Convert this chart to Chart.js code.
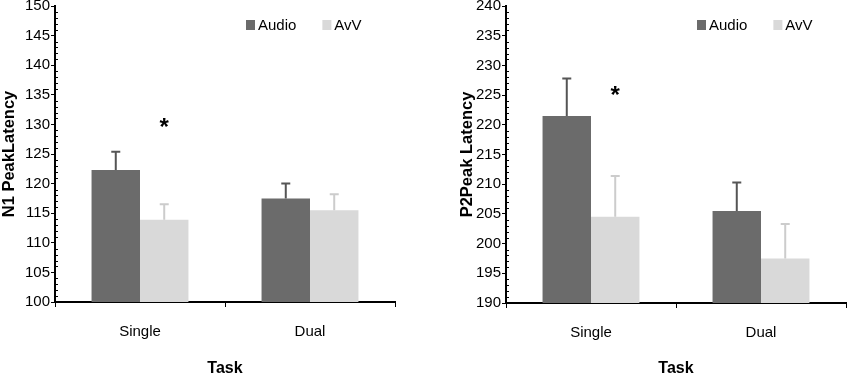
<!DOCTYPE html>
<html>
<head>
<meta charset="utf-8">
<script src="https://cdn.jsdelivr.net/npm/chart.js@4.4.0/dist/chart.umd.min.js"></script>
<style>
  body { margin: 0; background: #fff; }
  .wrap { position: absolute; top: 0; width: 425px; height: 379px; }
</style>
</head>
<body>
<div class="wrap" style="left:0"><canvas id="n1Chart"></canvas></div>
<div class="wrap" style="left:425px"><canvas id="p2Chart"></canvas></div>
<script>
// categories
const tasks = ["Single", "Dual"]

// N1 peak latency (means and upper error)
const n1Audio = [122.3, 117.5]
const n1AvV = [113.9, 115.5]
const n1AudioErr = [3.1, 2.5]
const n1AvVErr = [2.6, 2.7]
const n1Star = [130.2, null]   // asterisk above AvV bar

// P2 peak latency
const p2Audio = [221.5, 205.5]
const p2AvV = [204.5, 197.5]
const p2AudioErr = [6.3, 4.8]
const p2AvVErr = [6.9, 5.8]
const p2Star = [225.6, null]

const FONT = "'Liberation Sans', Arial, sans-serif"
const AUDIO_COLOR = "#6b6b6b"
const AVV_COLOR = "#d9d9d9"

// error bars (upper only) + asterisk
const errorBars = {
    id: "errorBars",
    afterDatasetsDraw(chart) {
        const ctx = chart.ctx
        const y = chart.scales.y
        chart.data.datasets.forEach((ds, i) => {
            const meta = chart.getDatasetMeta(i)
            meta.data.forEach((bar, j) => {
                const top = y.getPixelForValue(ds.data[j] + ds.errors[j])
                ctx.save()
                ctx.strokeStyle = ds.errorColor
                ctx.lineWidth = 2
                ctx.beginPath()
                ctx.moveTo(bar.x, bar.y)
                ctx.lineTo(bar.x, top)
                ctx.moveTo(bar.x - 4.5, top)
                ctx.lineTo(bar.x + 4.5, top)
                ctx.stroke()
                ctx.restore()
            })
        })
        const stars = chart.options.plugins.errorBars.stars
        const avvMeta = chart.getDatasetMeta(1)
        stars.forEach((v, j) => {
            if (v == null) return
            ctx.save()
            ctx.fillStyle = "#000"
            ctx.font = "bold 24px " + FONT
            ctx.textAlign = "center"
            ctx.textBaseline = "middle"
            ctx.fillText("*", avvMeta.data[j].x, y.getPixelForValue(v) + 5)
            ctx.restore()
        })
    }
}

// minor ticks on the y axis
const minorTicks = {
    id: "minorTicks",
    afterDraw(chart) {
        const ctx = chart.ctx
        const y = chart.scales.y
        const x0 = chart.chartArea.left
        ctx.save()
        ctx.strokeStyle = "#000"
        ctx.lineWidth = 1.2
        ctx.beginPath()
        for (let v = y.min + 1; v < y.max; v++) {
            if (v % 5 === 0) continue
            const py = Math.round(y.getPixelForValue(v)) + 0.5
            ctx.moveTo(x0, py)
            ctx.lineTo(x0 + 3, py)
        }
        ctx.stroke()
        ctx.restore()
    }
}

// legend inside the plot area, top right
const innerLegend = {
    id: "innerLegend",
    afterDraw(chart) {
        const ctx = chart.ctx
        let x = chart.chartArea.right - 149
        const cy = 25
        ctx.save()
        ctx.font = "15px " + FONT
        ctx.textBaseline = "middle"
        chart.data.datasets.forEach(ds => {
            ctx.fillStyle = ds.backgroundColor
            ctx.fillRect(x, cy - 5, 9, 10)
            x += 12
            ctx.fillStyle = "#000"
            ctx.fillText(ds.label, x, cy + 1)
            x += ctx.measureText(ds.label).width + 26
        })
        ctx.restore()
    }
}

function makeChart(id, cfg) {
    const context = document.getElementById(id).getContext("2d")
    return new Chart(context, {
        type: "bar",
        data: {
            labels: tasks,
            datasets: [
                {
                    label: "Audio",
                    data: cfg.audio,
                    errors: cfg.audioErr,
                    errorColor: "#555555",
                    backgroundColor: AUDIO_COLOR,
                },
                {
                    label: "AvV",
                    data: cfg.avv,
                    errors: cfg.avvErr,
                    errorColor: "#cccccc",
                    backgroundColor: AVV_COLOR,
                }
            ]
        },
        options: {
            responsive: true,
            maintainAspectRatio: false,
            animation: false,
            layout: { padding: { top: 6, right: cfg.padRight, bottom: 0, left: 0 } },
            datasets: { bar: { barPercentage: 1, categoryPercentage: 0.57 } },
            plugins: {
                legend: { display: false },
                tooltip: { enabled: false },
                errorBars: { stars: cfg.stars }
            },
            scales: {
                x: {
                    grid: { drawOnChartArea: false, tickLength: 5, color: "#000", offset: true },
                    border: { color: "#000", width: 2 },
                    ticks: { padding: 16, color: "#000", font: { size: 15, family: FONT } },
                    title: {
                        display: true, text: "Task", color: "#000",
                        font: { size: 16, weight: "bold", family: FONT },
                        padding: { top: 0, bottom: 1 }
                    },
                    afterFit(scale) { scale.height = cfg.xHeight }
                },
                y: {
                    min: cfg.min,
                    max: cfg.max,
                    ticks: { stepSize: 5, padding: 1, color: "#000", font: { size: 15, family: FONT } },
                    grid: { drawOnChartArea: false, tickLength: 4, color: "#000" },
                    border: { color: "#000", width: 2 },
                    title: {
                        display: true, text: cfg.title, color: "#000",
                        font: { size: 16.5, weight: "bold", family: FONT },
                        padding: { top: cfg.titlePad, bottom: 0 }
                    },
                    afterFit(scale) {
                        scale.width = cfg.yWidth
                        scale.paddingTop = 0
                        scale.paddingBottom = 0
                    }
                }
            }
        },
        plugins: [errorBars, minorTicks, innerLegend]
    })
}

makeChart("n1Chart", {
    audio: n1Audio, avv: n1AvV, audioErr: n1AudioErr, avvErr: n1AvVErr, stars: n1Star,
    min: 100, max: 150, title: "N1 PeakLatency",
    yWidth: 55, titlePad: 0, padRight: 30, xHeight: 77
})

makeChart("p2Chart", {
    audio: p2Audio, avv: p2AvV, audioErr: p2AudioErr, avvErr: p2AvVErr, stars: p2Star,
    min: 190, max: 240, title: "P2Peak Latency",
    yWidth: 81, titlePad: 33, padRight: 4, xHeight: 76
})
</script>
</body>
</html>
